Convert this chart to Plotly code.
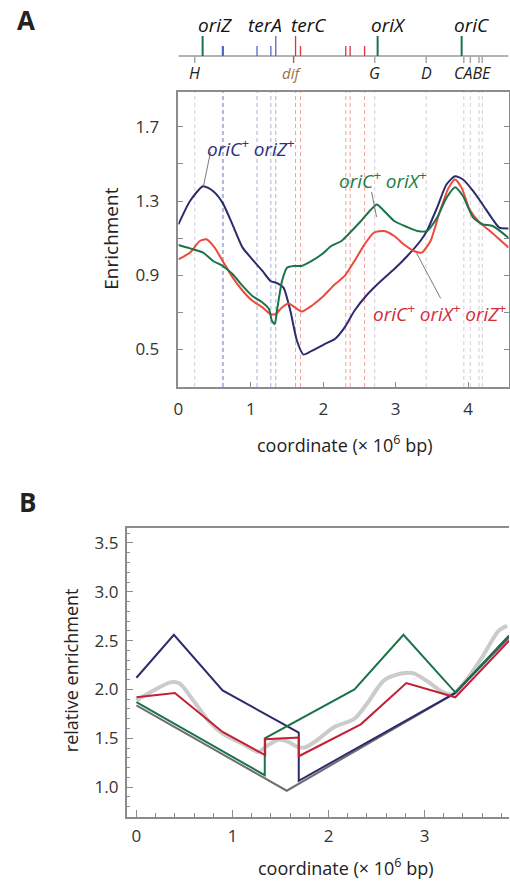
import plotly.graph_objects as go

W, H = 510, 881
FONT = "Open Sans"

# ---------------- Panel A data (coordinate in Mb, enrichment) ----------------
a_x_navy = [0, 0.16, 0.34, 0.48, 0.61, 0.75, 0.886, 1.02, 1.16, 1.27, 1.36, 1.45, 1.545, 1.636, 1.727,
            1.84, 2.02, 2.16, 2.295, 2.43, 2.61, 2.795, 2.977, 3.16, 3.34, 3.43, 3.57, 3.70, 3.82, 3.93,
            4.07, 4.20, 4.34, 4.43, 4.56]
a_y_navy = [1.174, 1.30, 1.38, 1.353, 1.29, 1.17, 1.048, 0.985, 0.922, 0.868, 0.856, 0.832, 0.707, 0.545, 0.47,
            0.49, 0.527, 0.554, 0.617, 0.707, 0.796, 0.868, 0.931, 1.003, 1.084, 1.138, 1.263, 1.389, 1.434, 1.416,
            1.353, 1.281, 1.20, 1.156, 1.152]

a_x_green = [0, 0.16, 0.34, 0.48, 0.61, 0.75, 0.886, 1.02, 1.16, 1.25, 1.29, 1.33, 1.36, 1.43, 1.5, 1.59, 1.70,
             1.84, 1.98, 2.11, 2.25, 2.39, 2.52, 2.66, 2.74, 2.82, 2.98, 3.16, 3.30, 3.43, 3.57, 3.70, 3.82,
             3.93, 4.07, 4.20, 4.34, 4.56]
a_y_green = [1.062, 1.044, 1.021, 0.976, 0.949, 0.904, 0.841, 0.787, 0.752, 0.716, 0.653, 0.635, 0.707, 0.868,
             0.94, 0.949, 0.949, 0.976, 1.012, 1.057, 1.084, 1.138, 1.192, 1.254, 1.281, 1.254, 1.192, 1.159,
             1.138, 1.138, 1.21, 1.317, 1.375, 1.326, 1.21, 1.174, 1.165, 1.10]

a_x_red = [0, 0.16, 0.295, 0.386, 0.5, 0.61, 0.75, 0.886, 1.02, 1.16, 1.27, 1.34, 1.43, 1.52, 1.61, 1.70, 1.84,
           1.98, 2.16, 2.295, 2.43, 2.57, 2.70, 2.84, 2.98, 3.11, 3.25, 3.36, 3.48, 3.61, 3.73, 3.82, 3.91,
           4.02, 4.16, 4.30, 4.43, 4.56]
a_y_red = [0.985, 1.021, 1.084, 1.093, 1.048, 0.976, 0.886, 0.815, 0.761, 0.725, 0.689, 0.689, 0.725, 0.746,
           0.725, 0.703, 0.734, 0.778, 0.85, 0.895, 0.976, 1.066, 1.129, 1.138, 1.111, 1.066, 1.03, 1.021,
           1.084, 1.245, 1.371, 1.416, 1.371, 1.254, 1.183, 1.138, 1.093, 1.048]

# Genome map features (Mb)
ori_names = ["oriZ", "oriX", "oriC"]
ori_pos = [0.334, 2.75, 3.91]
ori_label_pos = [0.51, 2.9, 4.04]
ter_blue_pos = [0.607, 0.62, 1.085, 1.276, 1.344]
ter_blue_tall = [False, False, False, False, True]
ter_red_pos = [1.617, 1.685, 2.31, 2.37, 2.57]
ter_red_tall = [True, False, False, False, False]
ter_label_names = ["terA", "terC"]
ter_label_pos = [1.19, 1.79]
rrn_names = ["H", "G", "D", "C", "A", "B", "E"]
rrn_pos = [0.225, 2.71, 3.42, 3.94, 4.03, 4.15, 4.195]
rrn_label_names = ["H", "G", "D", "CABE"]
rrn_label_pos = [0.225, 2.71, 3.42, 4.065]
dif_pos = 1.59

# ---------------- Panel B data ----------------
b_x_navy = [0, 0.39, 0.897, 1.69, 1.69, 3.32, 3.88]
b_y_navy = [2.12, 2.56, 1.99, 1.558, 1.065, 1.965, 2.55]
b_x_green = [0, 1.336, 1.336, 2.27, 2.78, 3.32, 3.88]
b_y_green = [1.87, 1.122, 1.50, 2.0, 2.56, 1.97, 2.55]
b_x_red = [0, 0.40, 0.897, 1.34, 1.34, 1.69, 1.69, 2.336, 2.81, 3.32, 3.88]
b_y_red = [1.92, 1.963, 1.565, 1.327, 1.49, 1.507, 1.316, 1.643, 2.065, 1.92, 2.50]
b_x_gray = [0, 1.565, 3.31, 3.88]
b_y_gray = [1.837, 0.963, 1.956, 2.53]
b_x_data = [0, 0.178, 0.366, 0.45, 0.59, 0.76, 0.897, 1.10, 1.27, 1.34, 1.48, 1.58, 1.685, 1.75, 1.856, 2.06,
            2.27, 2.40, 2.575, 2.746, 2.88, 3.02, 3.19, 3.29, 3.43, 3.60, 3.77, 3.86]
b_y_data = [1.888, 1.99, 2.075, 2.06, 1.89, 1.667, 1.548, 1.446, 1.36, 1.41, 1.486, 1.463, 1.41, 1.405, 1.463,
            1.616, 1.70, 1.854, 2.09, 2.16, 2.167, 2.09, 1.973, 1.95, 2.09, 2.33, 2.60, 2.65]

NAVY = "#2b2c6e"
GREEN = "#1b7448"
RED_A = "#ee4a3c"
RED_B = "#c42035"
FRAME = "#8c8c8c"
BLUE_T = "#4e6ac4"
RED_T = "#e0303a"
BROWN = "#a0703e"
TXT = "#222222"

def py(p):
    return 1 - p / H

def px(p):
    return p / W

fig = go.Figure()

# ---- Panel A traces
for xs, ys, c in [(a_x_navy, a_y_navy, NAVY), (a_x_red, a_y_red, RED_A), (a_x_green, a_y_green, GREEN)]:
    fig.add_trace(go.Scatter(x=xs, y=ys, mode="lines", line=dict(color=c, width=2, shape="spline", smoothing=0.6),
                             xaxis="x", yaxis="y", showlegend=False, hoverinfo="skip"))

# ---- Panel B traces
fig.add_trace(go.Scatter(x=b_x_data, y=b_y_data, mode="lines",
                         line=dict(color="#cbcbcb", width=4, shape="spline", smoothing=0.8),
                         xaxis="x2", yaxis="y2", showlegend=False, hoverinfo="skip"))
for xs, ys, c in [(b_x_gray, b_y_gray, "#6e6e6e"), (b_x_navy, b_y_navy, NAVY), (b_x_green, b_y_green, GREEN),
                  (b_x_red, b_y_red, RED_B)]:
    fig.add_trace(go.Scatter(x=xs, y=ys, mode="lines", line=dict(color=c, width=2),
                             xaxis="x2", yaxis="y2", showlegend=False, hoverinfo="skip"))

shapes = []
# dashed vertical lines in panel A
for p in ter_blue_pos:
    shapes.append(dict(type="line", xref="x", yref="y domain", x0=p, x1=p, y0=0, y1=1,
                       line=dict(color="#a7b0dc", width=1, dash="4px,3px"), layer="below"))
for p in ter_red_pos:
    shapes.append(dict(type="line", xref="x", yref="y domain", x0=p, x1=p, y0=0, y1=1,
                       line=dict(color="#f2a0a0", width=1, dash="4px,3px"), layer="below"))
for p in rrn_pos:
    shapes.append(dict(type="line", xref="x", yref="y domain", x0=p, x1=p, y0=0, y1=1,
                       line=dict(color="#d6ccd6", width=1, dash="4px,3px"), layer="below"))

# genome map (x3 shares coordinates with panel A; y3 is -pixel)
shapes.append(dict(type="line", xref="x3", yref="y3", x0=0, x1=4.56, y0=-56, y1=-56,
                   line=dict(color="#9a9a9a", width=1.5)))
for p in ori_pos:
    shapes.append(dict(type="line", xref="x3", yref="y3", x0=p, x1=p, y0=-56, y1=-36,
                       line=dict(color=GREEN, width=2)))
for p, t in zip(ter_blue_pos, ter_blue_tall):
    shapes.append(dict(type="line", xref="x3", yref="y3", x0=p, x1=p, y0=-56, y1=-36 if t else -46,
                       line=dict(color=BLUE_T, width=1.3)))
for p, t in zip(ter_red_pos, ter_red_tall):
    shapes.append(dict(type="line", xref="x3", yref="y3", x0=p, x1=p, y0=-56, y1=-36 if t else -46,
                       line=dict(color=RED_T, width=1.3)))
for p in rrn_pos:
    shapes.append(dict(type="line", xref="x3", yref="y3", x0=p, x1=p, y0=-56, y1=-63,
                       line=dict(color="#a8a8a8", width=1.5)))
shapes.append(dict(type="line", xref="x3", yref="y3", x0=dif_pos, x1=dif_pos, y0=-56, y1=-63,
                   line=dict(color=BROWN, width=1.5)))

# leader lines in panel A
for (x0, y0, x1, y1) in [(0.443, 1.565, 0.348, 1.385), (2.667, 1.349, 2.735, 1.214), (3.29, 1.017, 3.62, 0.774)]:
    shapes.append(dict(type="line", xref="x", yref="y", x0=x0, y0=y0, x1=x1, y1=y1,
                       line=dict(color="#7a7a7a", width=1)))

ann = []

def add_text(text, x, y, xref="paper", yref="paper", size=18, color=TXT, xanchor="center", angle=0):
    ann.append(dict(text=text, x=x, y=y, xref=xref, yref=yref, showarrow=False, xanchor=xanchor,
                    yanchor="middle", textangle=angle, font=dict(family=FONT, size=size, color=color)))

# map labels
for n, p in list(zip(ori_names, ori_label_pos)) + list(zip(ter_label_names, ter_label_pos)):
    add_text(f"<i>{n}</i>", p, -25, "x3", "y3", size=19, color="#111111")
for n, p in zip(rrn_label_names, rrn_label_pos):
    add_text(f"<i>{n}</i>", p, -73, "x3", "y3", size=16, color=TXT)
add_text("<i>dif</i>", 1.56, -73, "x3", "y3", size=15, color=BROWN)

# series labels in panel A
add_text("<i>oriC<sup>+</sup> oriZ<sup>+</sup></i>", px(249), py(148), size=19, color="#2e2f80")
add_text("<i>oriC<sup>+</sup> oriX<sup>+</sup></i>", px(382), py(180), size=19, color="#1d7a47")
add_text("<i>oriC<sup>+</sup> oriX<sup>+</sup> oriZ<sup>+</sup></i>", px(509), py(313), size=19,
         color="#d42b3b", xanchor="right")

# panel letters
add_text("<b>A</b>", px(21), py(20), size=26)
add_text("<b>B</b>", px(23), py(502), size=26)

# axis titles
add_text("coordinate (× 10<sup>6</sup> bp)", px(344), py(444), size=18)
add_text("coordinate (× 10<sup>6</sup> bp)", px(345), py(867), size=18)
add_text("Enrichment", px(107), py(239), size=19, angle=-90)
add_text("relative enrichment", px(67), py(670), size=18, angle=-90)

tickfont = dict(family=FONT, size=17, color="#333333")

fig.update_layout(
    width=W, height=H, margin=dict(l=0, r=0, t=0, b=0),
    paper_bgcolor="white", plot_bgcolor="white",
    shapes=shapes, annotations=ann, showlegend=False,
    xaxis=dict(domain=[px(175.5), px(509.5)], range=[0, 4.557], anchor="y",
               tickvals=[0, 1, 2, 3, 4], ticks="inside", ticklen=5, tickcolor=FRAME, tickfont=tickfont,
               ticklabelstandoff=6, showline=True, linecolor=FRAME, linewidth=1.5, mirror=True,
               showgrid=False, zeroline=False),
    yaxis=dict(domain=[py(387), py(92)], range=[0.295, 1.889], anchor="x",
               tickvals=[0.5, 0.9, 1.3, 1.7], ticktext=["0.5", "0.9", "1.3", "1.7"],
               ticks="inside", ticklen=5, tickcolor=FRAME, tickfont=tickfont, ticklabelstandoff=14,
               minor=dict(tickvals=[0.7, 1.1, 1.5], ticks="inside", ticklen=5, tickcolor=FRAME),
               showline=True, linecolor=FRAME, linewidth=1.5, mirror="allticks",
               showgrid=False, zeroline=False),
    xaxis2=dict(domain=[px(123), 1.0], range=[-0.103, 3.879], anchor="y2",
                tickvals=[0, 1, 2, 3], ticks="inside", ticklen=7, tickcolor=FRAME, tickfont=tickfont,
                ticklabelstandoff=3,
                minor=dict(dtick=0.2, tick0=0, ticks="inside", ticklen=4, tickcolor=FRAME),
                showline=True, linecolor=FRAME, linewidth=1.5, mirror=True,
                showgrid=False, zeroline=False),
    yaxis2=dict(domain=[py(817), py(528)], range=[0.694, 3.653], anchor="x2",
                tickvals=[1.0, 1.5, 2.0, 2.5, 3.0, 3.5], ticktext=["1.0", "1.5", "2.0", "2.5", "3.0", "3.5"],
                ticks="inside", ticklen=7, tickcolor=FRAME, tickfont=tickfont, ticklabelstandoff=3,
                minor=dict(dtick=0.1, tick0=0, ticks="inside", ticklen=4, tickcolor=FRAME),
                showline=True, linecolor=FRAME, linewidth=1.5, mirror=False,
                showgrid=False, zeroline=False),
    xaxis3=dict(domain=[px(175.5), px(509.5)], range=[0, 4.557], anchor="y3", visible=False),
    yaxis3=dict(domain=[py(88), 1.0], range=[-88, 0], anchor="x3", visible=False),
)

fig.write_html("out.html")
